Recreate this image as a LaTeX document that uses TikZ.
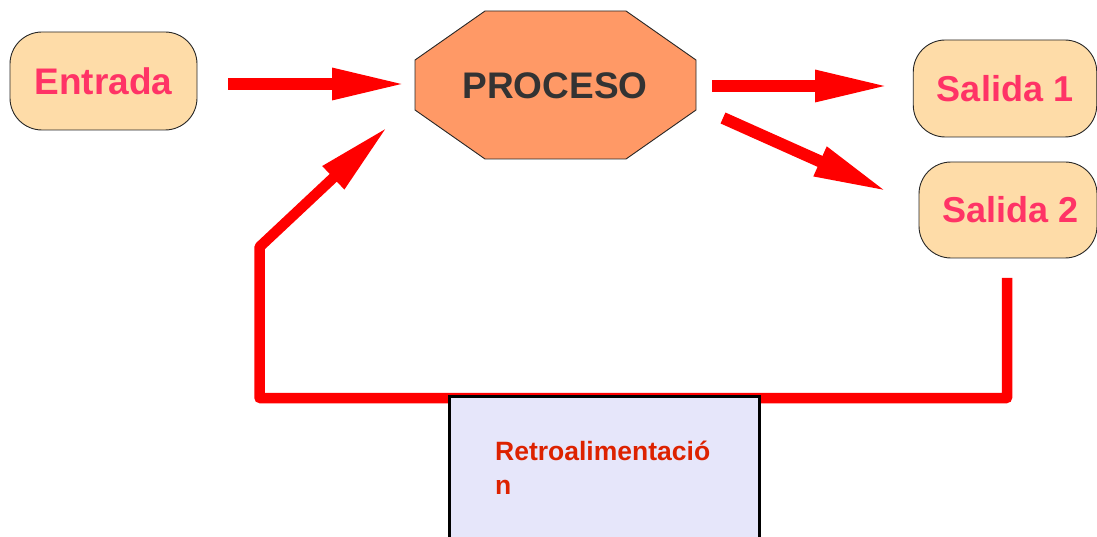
\documentclass[tikz,border=0pt]{standalone}
\usepackage{fontspec}
\setmainfont{Liberation Sans}
\usetikzlibrary{arrows.meta}
\definecolor{boxfill}{RGB}{254,220,168}
\definecolor{pinktext}{RGB}{255,51,102}
\definecolor{procfill}{RGB}{255,153,102}
\definecolor{proctext}{RGB}{51,51,51}
\definecolor{retrofill}{RGB}{230,230,250}
\definecolor{retrotext}{RGB}{221,34,0}
\definecolor{arrowred}{RGB}{255,0,0}
\begin{document}
\begin{tikzpicture}[x=1pt,y=-1pt,
  iobox/.style={draw=black!85, line width=0.9pt, fill=boxfill, rounded corners=32pt,
    inner sep=0pt, text=pinktext, font=\bfseries\fontsize{36}{43}\selectfont},
  bigarrow/.style={draw=arrowred, line width=12pt, -{Triangle[length=75pt,width=29pt]}},
  fbarrow/.style={draw=arrowred, line width=10.5pt, line join=round, -{Triangle[length=75pt,width=29pt]}},
  procshape/.style={draw=black!85, line width=0.9pt, fill=procfill},
  proclabel/.style={text=proctext, font=\bfseries\fontsize{37}{44}\selectfont, inner sep=0pt},
  retrobox/.style={draw=black, line width=3pt, fill=retrofill, inner sep=0pt},
  retrolabel/.style={text=retrotext, font=\bfseries\fontsize{26.5}{34}\selectfont, align=left, inner sep=0pt}
]
\useasboundingbox (0,0) rectangle (1097,537);
\clip (0,0) rectangle (1097,537);

% boxes
\node[iobox, minimum width=187pt, minimum height=98pt, font=\bfseries\fontsize{37}{44}\selectfont] (entrada) at (103.5,81) {Entrada};
\node[iobox, minimum width=183.5pt, minimum height=97pt] (sal1) at (1005,88.5) {Salida 1};
\node[iobox, minimum width=178pt, minimum height=96pt] (sal2) at (1008,210) {\hspace*{5pt}Salida 2};

% process octagon
\draw[procshape] (485,11) -- (626,11) -- (696,60) -- (696,110) -- (626,159) -- (485,159) -- (415,110) -- (415,60) -- cycle;
\node[proclabel] (proc) at (555,85.5) {PROCESO};

% arrow coordinates
\coordinate (a1s) at (228,84);
\coordinate (a1e) at (407,84);
\coordinate (a2s) at (712,86);
\coordinate (a2e) at (890,86);
\coordinate (a3s) at (723,118);
\coordinate (a3e) at (888.5,192);
\coordinate (fbs) at (1007,278);
\coordinate (fb1) at (1007,398);
\coordinate (fb2) at (259.5,398);
\coordinate (fb3) at (259.5,247);
\coordinate (fbe) at (388,126.5);

\draw[bigarrow] (a1s) -- (a1e);
\draw[bigarrow] (a2s) -- (a2e);
\draw[bigarrow] (a3s) -- (a3e);
\draw[fbarrow] (fbs) -- (fb1) -- (fb2) -- (fb3) -- (fbe);

% feedback box
\node[retrobox, minimum width=309.5pt, minimum height=200pt, anchor=north west] (retro) at (448,395) {};
\node[retrolabel, anchor=base west] (retrotxt) at (495,494) {Retroalimentació\\n};
\end{tikzpicture}
\end{document}
